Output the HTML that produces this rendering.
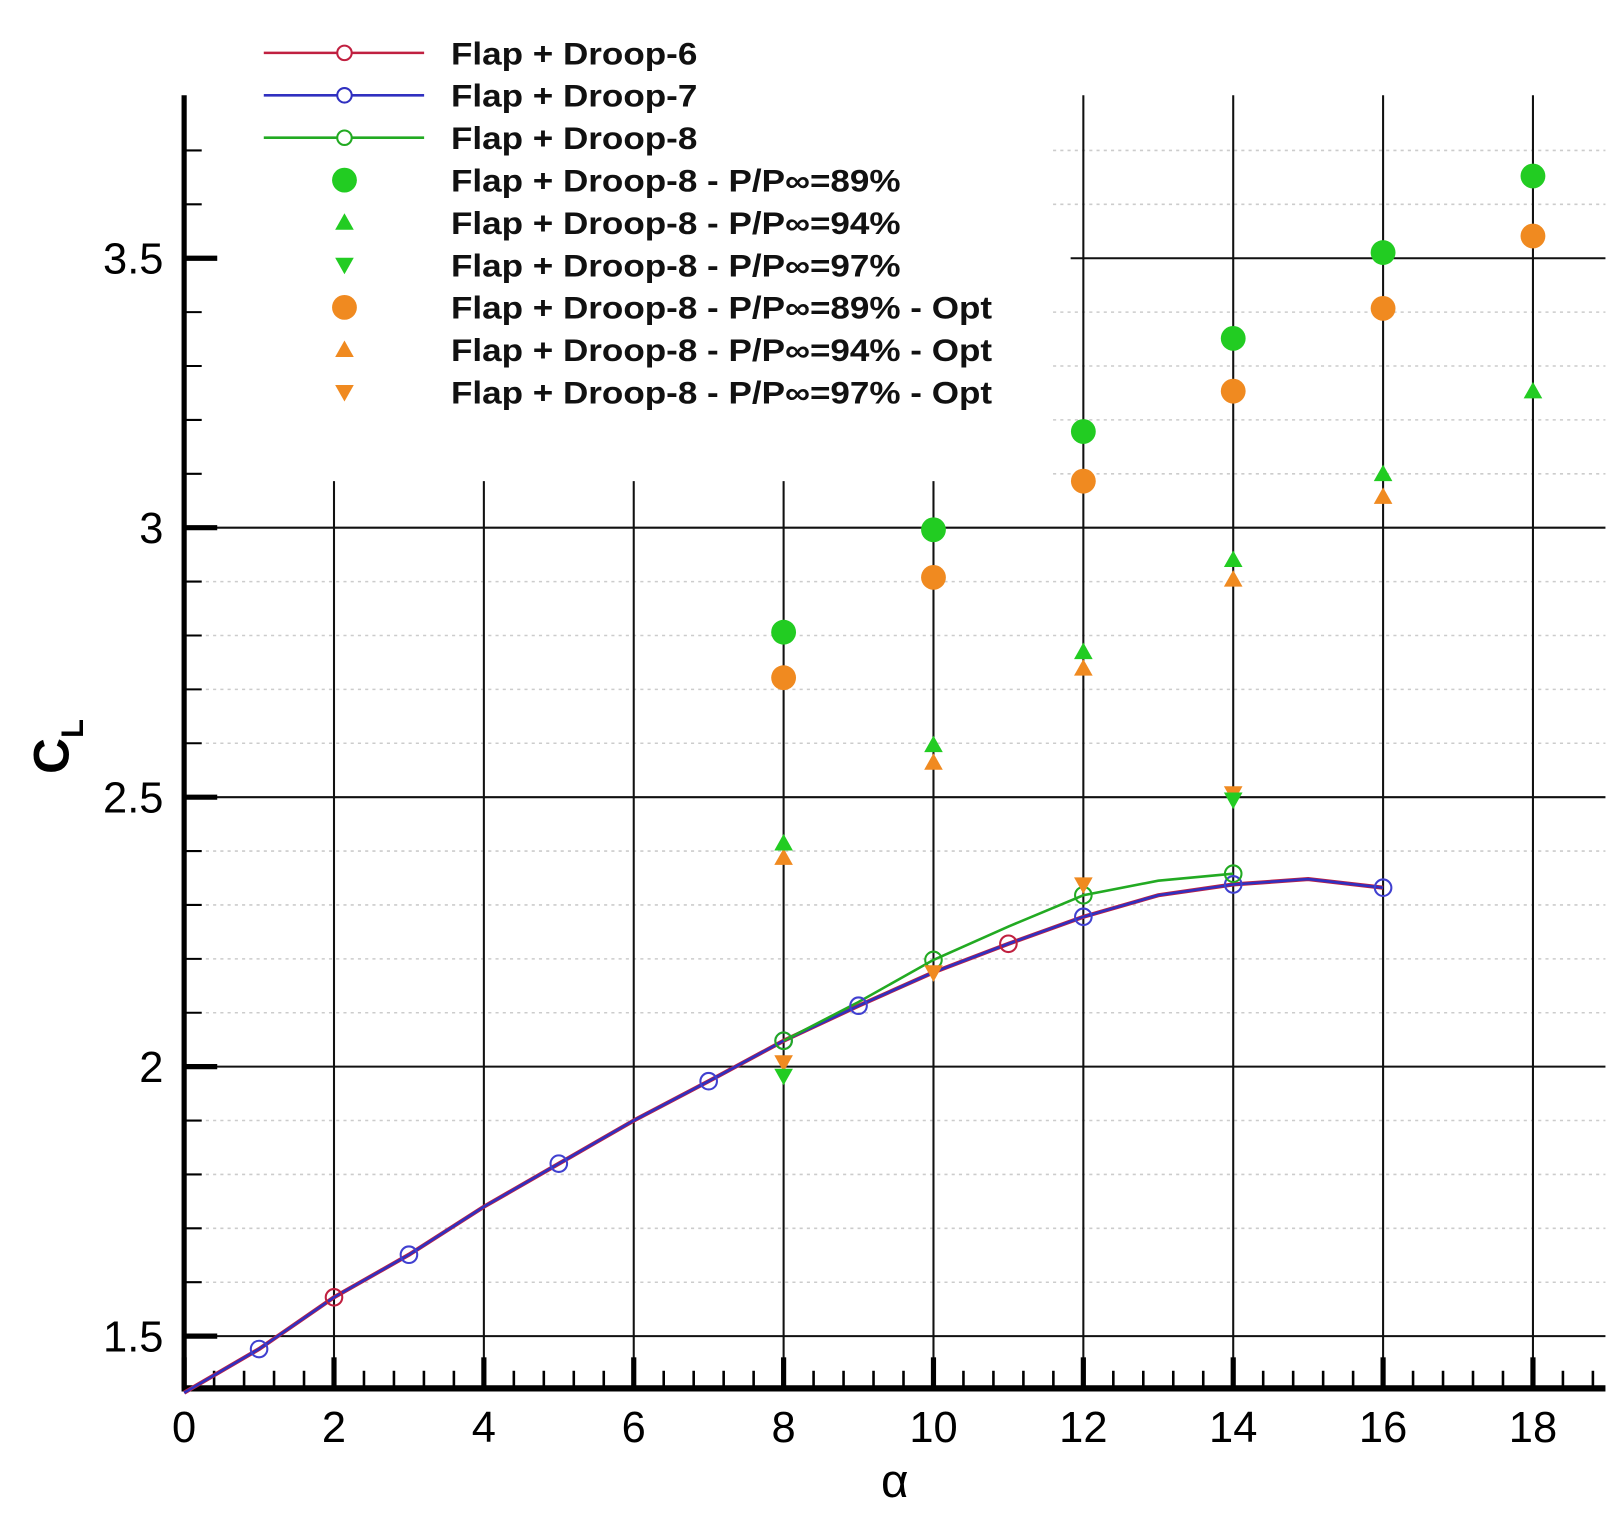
<!DOCTYPE html>
<html><head><style>html,body{margin:0;padding:0;background:#fff}svg{display:block}</style></head><body>
<svg width="1622" height="1524" viewBox="0 0 1568 1473" xmlns="http://www.w3.org/2000/svg" font-family="Liberation Sans, Arial, sans-serif">
<rect width="1568" height="1473" fill="#fff"/>
<g id="minor" stroke="#ccc" stroke-width="1.5" stroke-dasharray="3,4">
</g>
<text x="0" y="0" font-size="48" font-weight="bold" fill="#000" transform="translate(66,748) rotate(-90)">C<tspan font-size="30" dy="14">L</tspan></text>
<script>
(function(){
var s="http://www.w3.org/2000/svg";var svg=document.currentScript.parentNode;
function X(a){return 178+a*72.44}function Y(c){return 510+(3-c)*521}
function el(t,at,p){var e=document.createElementNS(s,t);for(var k in at)e.setAttribute(k,at[k]);(p||svg).appendChild(e);return e}
var mn=document.getElementById('minor');
for(var c=1.5;c<3.75;c+=0.1){var r=Math.round(c*10);if(r%5==0)continue;var y=Y(r/10);var x0=(y<470)?1018:178;el('line',{x1:x0,x2:1552,y1:y,y2:y},mn);}
var g=el('g',{stroke:'#111','stroke-width':2});
[1.5,2,2.5,3].forEach(function(c){el('line',{x1:178,x2:1552,y1:Y(c),y2:Y(c)},g)});
el('line',{x1:1035,x2:1552,y1:Y(3.5),y2:Y(3.5)},g);
for(var a=2;a<=18;a+=2){el('line',{x1:X(a),x2:X(a),y1:(a<=10?465:92),y2:1342},g)}
var ax=el('g',{stroke:'#000'});
el('line',{x1:178,x2:178,y1:92,y2:1345,'stroke-width':5},ax);
el('line',{x1:176,x2:1552,y1:1342,y2:1342,'stroke-width':6},ax);
for(var c=1.5;c<3.8;c+=0.1){var r=Math.round(c*10);var y=Y(r/10);el('line',{x1:178,x2:(r%5==0?210:195),y1:y,y2:y,'stroke-width':(r%5==0?5:2)},ax)}
for(var i=0;i<=50;i++){var a=i*0.4;var x=X(a);if(x>1552)break;var maj=(i%5==0);el('line',{x1:x,x2:x,y1:1342,y2:(maj?1312:1325),'stroke-width':(maj?5:2.5)},ax)}
[[1.5,'1.5'],[2,'2'],[2.5,'2.5'],[3,'3'],[3.5,'3.5']].forEach(function(p){var t=el('text',{x:158,y:Y(p[0])+15,'font-size':42,'text-anchor':'end',fill:'#000'});t.textContent=p[1]});
for(var a=0;a<=18;a+=2){var t=el('text',{x:X(a),y:1394,'font-size':42,'text-anchor':'middle',fill:'#000'});t.textContent=a}
var t=el('text',{x:865,y:1447,'font-size':46,'text-anchor':'middle',fill:'#000'});t.textContent='α';
function pts(arr){return arr.map(function(p){return X(p[0])+','+Y(p[1])}).join(' ')}
var blue=[[0,1.395],[1,1.476],[2,1.572],[3,1.651],[4,1.74],[5,1.82],[6,1.9],[7,1.973],[8,2.048],[9,2.113],[10,2.175],[11,2.228],[12,2.278],[13,2.318],[14,2.338],[15,2.348],[16,2.332]];
var green=[[8,2.048],[9,2.12],[10,2.198],[11,2.26],[12,2.318],[13,2.345],[14,2.358]];
el('polyline',{points:pts(blue),fill:'none',stroke:'#c02040','stroke-width':4});
el('polyline',{points:pts(blue),fill:'none',stroke:'#3030c0','stroke-width':2.5});
el('polyline',{points:pts(green),fill:'none',stroke:'#22aa22','stroke-width':2.5});
function oc(a,c,col){el('circle',{cx:X(a),cy:Y(c),r:8,fill:'none',stroke:col,'stroke-width':2})}
[1,3,5,7,8,9,12,14,16].forEach(function(a){var c=blue.filter(function(p){return p[0]==a})[0][1];oc(a,c,'#4040d0')});
oc(2,1.572,'#c02040');oc(11,2.228,'#c02040');
[[8,2.048],[10,2.198],[12,2.318],[14,2.358]].forEach(function(p){oc(p[0],p[1],'#22aa22')});
var G='#22cc22',O='#f08a20';
function fc(x,y,col){el('circle',{cx:x,cy:y,r:12,fill:col})}
function up(x,y,col){el('polygon',{points:(x-9)+','+(y+7)+' '+(x+9)+','+(y+7)+' '+x+','+(y-9),fill:col})}
function dn(x,y,col){el('polygon',{points:(x-9)+','+(y-7)+' '+(x+9)+','+(y-7)+' '+x+','+(y+9),fill:col})}
[[8,611],[10,512],[12,417],[14,327],[16,244],[18,170]].forEach(function(p){fc(X(p[0]),p[1],G)});
[[8,655],[10,558],[12,465],[14,378],[16,298],[18,228]].forEach(function(p){fc(X(p[0]),p[1],O)});
[[8,829],[10,737],[12,646],[14,560],[16,480]].forEach(function(p){up(X(p[0]),p[1],O)});
[[8,815],[10,720],[12,630],[14,541],[16,458],[18,378]].forEach(function(p){up(X(p[0]),p[1],G)});
[[8,1027],[10,940],[12,855],[14,767]].forEach(function(p){dn(X(p[0]),p[1],O)});
[[8,1040],[14,773]].forEach(function(p){dn(X(p[0]),p[1],G)});
var labs=['Flap + Droop-6','Flap + Droop-7','Flap + Droop-8','Flap + Droop-8 - P/P∞=89%','Flap + Droop-8 - P/P∞=94%','Flap + Droop-8 - P/P∞=97%','Flap + Droop-8 - P/P∞=89% - Opt','Flap + Droop-8 - P/P∞=94% - Opt','Flap + Droop-8 - P/P∞=97% - Opt'];
var lc=['#c02040','#3030c0','#22aa22'];
labs.forEach(function(l,i){var y=51+i*41;
 if(i<3){el('line',{x1:255,x2:410,y1:y,y2:y,stroke:lc[i],'stroke-width':2.5});el('circle',{cx:333,cy:y,r:7,fill:'#fff',stroke:lc[i],'stroke-width':2})}
 else if(i==3)fc(333,y,G);else if(i==4)up(333,y,G);else if(i==5)dn(333,y,G);else if(i==6)fc(333,y,O);else if(i==7)up(333,y,O);else dn(333,y,O);
 var t=el('text',{x:436,y:y+11,'font-size':30,'font-weight':'bold',fill:'#111'});t.textContent=l;
 try{var w=t.getComputedTextLength();t.setAttribute('textLength',w*1.13);t.setAttribute('lengthAdjust','spacingAndGlyphs');}catch(e){}
});
})();
</script>
</svg>
</body></html>
